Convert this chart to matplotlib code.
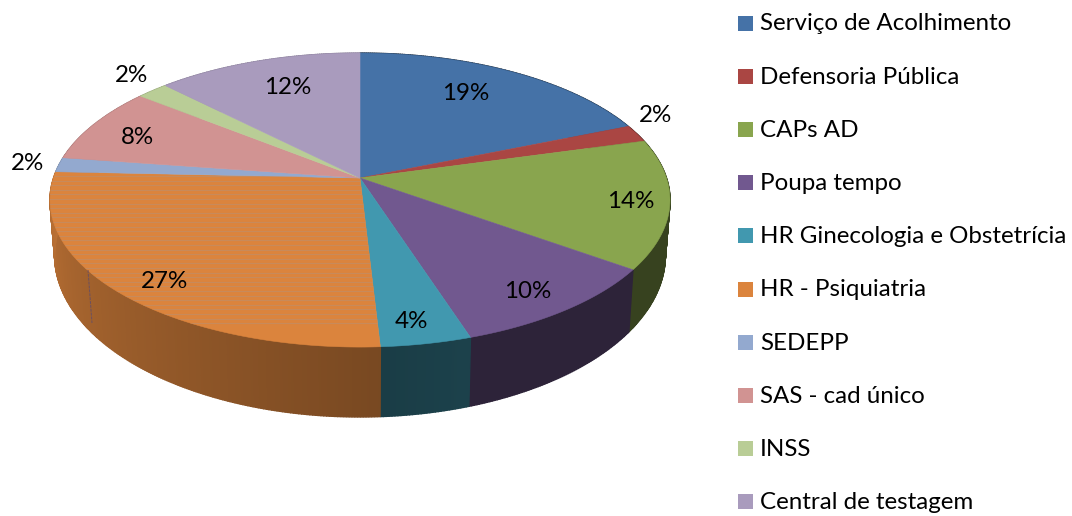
import matplotlib
matplotlib.use("Agg")
import matplotlib.pyplot as plt
from matplotlib.patches import Polygon, Rectangle
import numpy as np

names = ["Serviço de Acolhimento", "Defensoria Pública", "CAPs AD", "Poupa tempo",
         "HR Ginecologia e Obstetrícia", "HR - Psiquiatria", "SEDEPP", "SAS - cad único",
         "INSS", "Central de testagem"]
values = [18.8, 1.9, 14.2, 10.1, 4.1, 26.6, 1.6, 8.4, 1.9, 12.4]
colors = ["#4572a7", "#aa4643", "#89a54e", "#71588f", "#4198af",
          "#db843d", "#93a9cf", "#d19392", "#b9cd96", "#a99bbd"]
# how dark the side wall gets, at start and end of each slice
side_dark = [(.4, .4), (.4, .4), (.4, .4), (.4, .4), (.43, .4),
             (.55, .86), (.8, .8), (.8, .8), (.8, .8), (.8, .8)]
label_pos = [(466, 94), (655, 115), (631, 202), (528, 292), (411, 321),
             (164, 281), (27, 164), (137, 137), (131, 75), (288, 88)]

plt.rcParams["font.family"] = ["Lato", "DejaVu Sans"]
FS = 17.4

# perspective of the tilted disc, in pixels
CX, CY = 360, 178
A, B, K = 306.5, 143.7, 0.15


def top_rim(t):
    d = 1 + K * np.cos(t)
    return CX + A * np.sin(t) / d, CY - B * np.cos(t) / d


def low_rim(t):
    d = 1 + K * np.cos(t)
    return CX + 0.985 * A * np.sin(t) / d, 231 - 1.1 * B * np.cos(t) / d


def shade(col, f):
    return tuple(c * f for c in matplotlib.colors.to_rgb(col))


fig = plt.figure(figsize=(10.72, 5.16), dpi=100)
ax = fig.add_axes([0, 0, 1, 1])
ax.set_xlim(0, 1072)
ax.set_ylim(516, 0)
ax.axis("off")

edges = np.radians(np.cumsum([0] + values) * 3.6)

# side wall first, then the top covers what is behind
for i in range(len(values)):
    ts = np.linspace(edges[i], edges[i + 1], max(int(values[i] * 8), 3))
    for j in range(len(ts) - 1):
        x0, y0 = top_rim(ts[j])
        x1, y1 = top_rim(ts[j + 1])
        x2, y2 = low_rim(ts[j + 1])
        x3, y3 = low_rim(ts[j])
        f = np.interp(j, [0, len(ts) - 2], side_dark[i])
        c = shade(colors[i], f)
        ax.add_patch(Polygon([(x0, y0), (x1, y1), (x2, y2), (x3, y3)], fc=c, ec=c, lw=1.0))

ax.plot([88, 92], [270, 323], color="#6b5060", lw=0.7, ls=(0, (3, 1)))

for i in range(len(values)):
    ts = np.linspace(edges[i], edges[i + 1], max(int(values[i] * 6), 6))
    xs, ys = top_rim(ts)
    pts = [(CX, CY)] + list(zip(xs, ys))
    patch = Polygon(pts, fc=colors[i], ec=colors[i], lw=0.4)
    ax.add_patch(patch)
    if names[i] == "HR - Psiquiatria":
        # banding in the orange slice
        for y in np.arange(176, 324, 4.6):
            ln, = ax.plot([40, 400], [y, y], color="#c48c62", lw=0.8, alpha=0.8)
            ln.set_clip_path(patch)

for i in range(len(values)):
    ax.text(label_pos[i][0], label_pos[i][1], f"{values[i]:.0f}%", fontsize=FS,
            ha="center", va="center", color="black")

# legend
for i in range(len(names)):
    y = 24 + i * 53.2
    ax.add_patch(Rectangle((738, y - 8.5), 15, 15, fc=colors[i], ec="none"))
    ax.text(760, y, names[i], fontsize=FS, ha="left", va="center", color="black")

fig.savefig("out.png", dpi=100)
